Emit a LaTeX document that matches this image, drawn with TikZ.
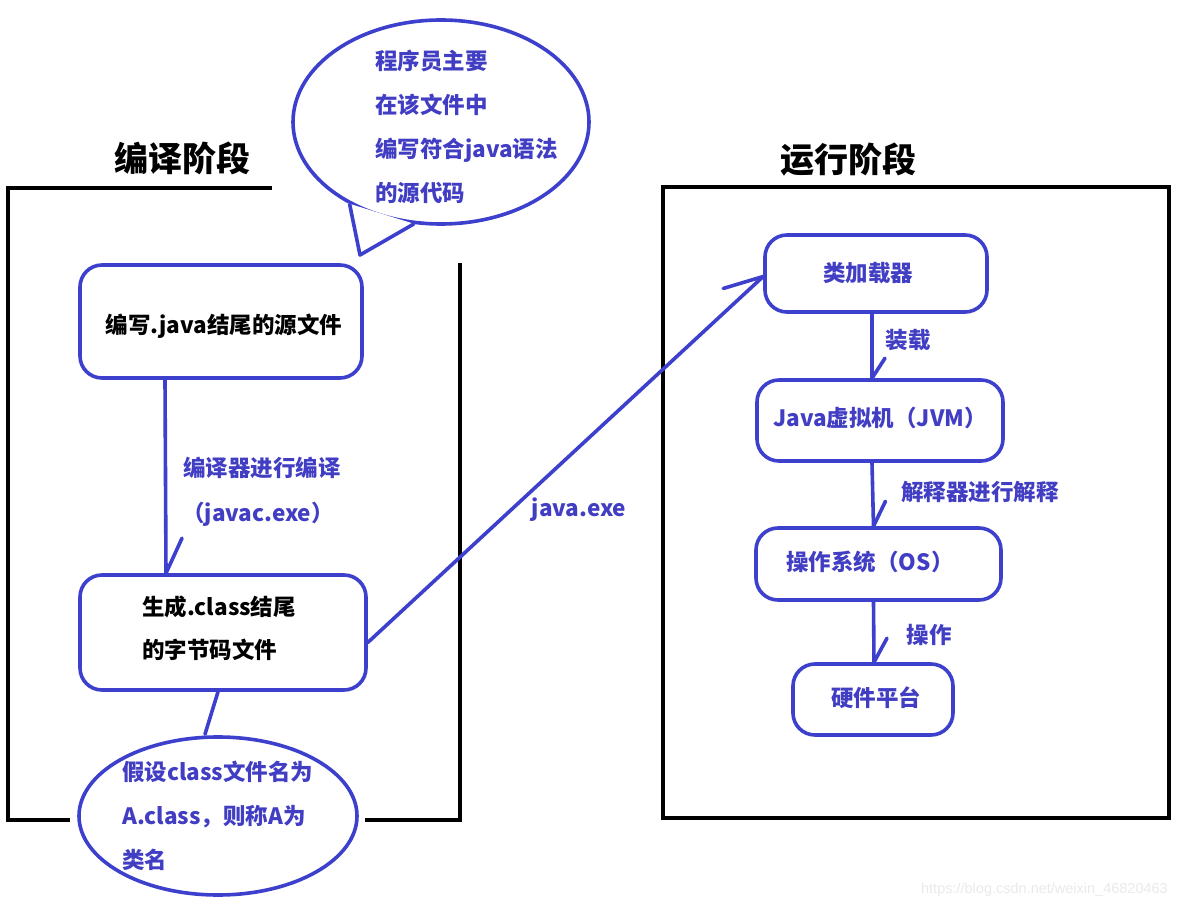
\documentclass[tikz,border=0pt]{standalone}
\usepackage{fontspec}
\setmainfont{Noto Sans CJK SC}
\newfontfamily\wmfont{Liberation Sans}
\usetikzlibrary{shapes.geometric}
\definecolor{bl}{RGB}{60,64,204}
\definecolor{bt}{RGB}{66,62,196}
\definecolor{wm}{RGB}{234,234,234}
\tikzset{
  frame/.style={draw=black,line width=4pt},
  conn/.style={draw=bl,line width=3.6pt,line cap=round},
  rbox/.style={draw=bl,line width=3.6pt,rounded corners=22pt,fill=white,inner sep=0pt},
  btxt/.style={font=\fontsize{22.5}{43}\selectfont\bfseries,text=black,inner sep=0pt},
  ltxt/.style={font=\fontsize{22.5}{44}\selectfont\bfseries,text=bt,inner sep=0pt},
  ttl/.style={font=\fontsize{34}{38}\selectfont\bfseries,text=black,inner sep=0pt},
}
\begin{document}
\begin{tikzpicture}[x=1pt,y=-1pt]
\useasboundingbox (0,0) rectangle (1179,909);
\fill[white] (0,0) rectangle (1179,909);

% frames
\draw[frame] (272,188) -- (8,188) -- (8,820) -- (70,820);
\draw[frame] (365,820) -- (460,820) -- (460,263);
\node[frame,draw,rectangle,minimum width=506pt,minimum height=631pt,inner sep=0pt] (rframe) at (916,502.5) {};

% titles
\node[ttl] (t1) at (182,158) {编译阶段};
\node[ttl] (t2) at (848,160) {运行阶段};

% speech bubble
\node[draw=bl,line width=3.6pt,ellipse,minimum width=296pt,minimum height=204pt,inner sep=0pt,fill=white] (bub) at (441,122) {};
\coordinate (tip) at (360,255);
\fill[white] (bub.221) -- (tip) -- (bub.256) -- cycle;
\draw[conn,line join=round] (bub.222) -- (tip) -- (bub.255);
\node[ltxt,align=left,anchor=west] (bubtxt) at (375,127) {程序员主要\\在该文件中\\编写符合java语法\\的源代码};

% left boxes
\node[rbox,minimum width=282pt,minimum height=113pt] (b1) at (221,321.5) {};
\node[btxt] (b1t) at (224,326) {编写.java结尾的源文件};
\node[rbox,minimum width=286pt,minimum height=115pt] (b2) at (223,632.5) {};
\node[btxt,align=left,anchor=west] (b2t) at (142,628) {生成.class结尾\\的字节码文件};
\node[draw=bl,line width=3.6pt,ellipse,minimum width=278pt,minimum height=158pt,inner sep=0pt,fill=white] (ell) at (218,816) {};
\node[ltxt,align=left,anchor=west] (ellt) at (122,816) {假设class文件名为\\A.class，则称A为\\类名};

% left connectors
\draw[conn] ([xshift=-56pt]b1.south) -- ([xshift=-57pt]b2.north) coordinate (e1);
\draw[conn] (e1) -- ++(16,-35);
\draw[conn] ([xshift=-5pt]b2.south) -- ([xshift=-13pt,yshift=1pt]ell.north);
\node[ltxt] (l1) at (262,468) {编译器进行编译};
\node[ltxt] (l2) at (258,514) {（javac.exe）};

% right boxes
\node[rbox,minimum width=222pt,minimum height=77pt] (r1) at (876,273.5) {};
\node[ltxt] (r1t) at (868,273) {类加载器};
\node[rbox,minimum width=246pt,minimum height=81pt] (r2) at (880,420.5) {};
\node[ltxt] (r2t) at (880,418) {Java虚拟机（JVM）};
\node[rbox,minimum width=245pt,minimum height=72pt] (r3) at (878.5,564) {};
\node[ltxt] (r3t) at (870,562) {操作系统（OS）};
\node[rbox,minimum width=160pt,minimum height=71pt] (r4) at (873,699.5) {};
\node[ltxt] (r4t) at (876,698) {硬件平台};

% right connectors
\draw[conn] ([xshift=-4pt]r1.south) -- ([xshift=-8pt]r2.north) coordinate (e2);
\draw[conn] (e2) -- ++(13,-20);
\draw[conn] ([xshift=-8pt]r2.south) -- ([xshift=-5pt]r3.north) coordinate (e3);
\draw[conn] (e3) -- ++(12,-25);
\draw[conn] ([xshift=-5pt]r3.south) -- ([xshift=1pt]r4.north) coordinate (e4);
\draw[conn] (e4) -- ++(13,-24);
\node[ltxt] (l3) at (908,340) {装载};
\node[ltxt] (l4) at (980,492) {解释器进行解释};
\node[ltxt] (l5) at (929,635) {操作};

% java.exe connector
\draw[conn] ([yshift=-10pt]b2.east) -- ([yshift=-3pt]r1.west) coordinate (e5);
\draw[conn] (e5) -- ++(-40,12);
\node[ltxt] (l6) at (579,510) {java.exe};

% watermark
\node[font=\wmfont\fontsize{14.5}{16}\selectfont,text=wm,inner sep=0pt,anchor=east] (wm) at (1168,890) {https://blog.csdn.net/weixin\_46820463};
\end{tikzpicture}
\end{document}
